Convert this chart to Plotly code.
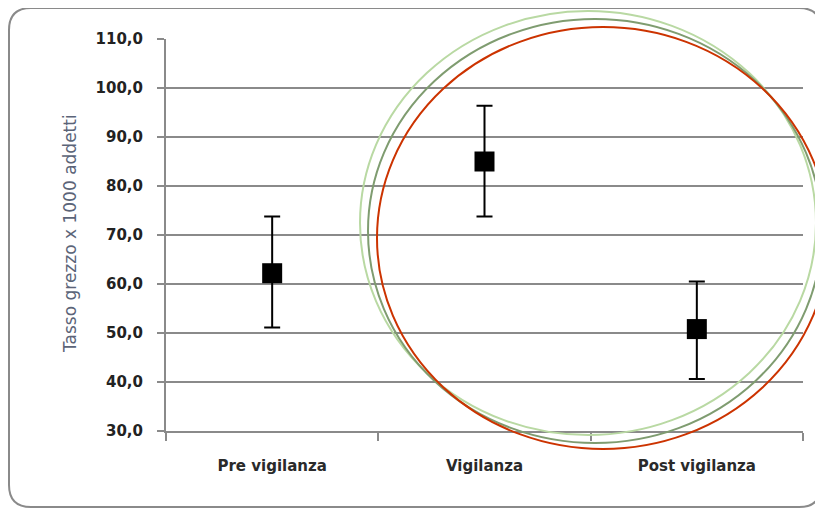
import plotly.graph_objects as go

categories = ["Pre vigilanza", "Vigilanza", "Post vigilanza"]
rate = [62.2, 85.0, 50.8]
upper = [73.8, 96.4, 60.5]
lower = [51.1, 73.8, 40.6]
y_ticks = [30, 40, 50, 60, 70, 80, 90, 100, 110]

err_plus = [u - v for u, v in zip(upper, rate)]
err_minus = [v - l for v, l in zip(rate, lower)]

OFF = 8  # page offset of the figure inside the browser window
W, H = 815, 503
L, T = 166 - OFF, 39 - OFF
R = W - (803 - OFF)
B = H - (431 - OFF)
PW, PH = W - L - R, H - T - B


def px(x):
    return (x - OFF - L) / PW


def py(y):
    return (H - B - (y - OFF)) / PH


fig = go.Figure()
fig.add_trace(go.Scatter(
    x=categories, y=rate, mode="markers",
    marker=dict(symbol="square", size=20, color="black"),
    error_y=dict(type="data", symmetric=False, array=err_plus, arrayminus=err_minus,
                 color="black", thickness=2, width=8),
    showlegend=False, hoverinfo="skip",
))

shapes = []
# rounded border
x0, x1, y0, y1, r = 9, 821, 8, 507, 22
rx, ry = r / PW, r / PH
X0, X1, Y0, Y1 = px(x0), px(x1), py(y0), py(y1)
path = (f"M {X0+rx} {Y0} L {X1-rx} {Y0} Q {X1} {Y0} {X1} {Y0-ry} "
        f"L {X1} {Y1+ry} Q {X1} {Y1} {X1-rx} {Y1} "
        f"L {X0+rx} {Y1} Q {X0} {Y1} {X0} {Y1+ry} "
        f"L {X0} {Y0-ry} Q {X0} {Y0} {X0+rx} {Y0} Z")
shapes.append(dict(type="path", xref="paper", yref="paper", path=path,
                   line=dict(color="#8a8a8a", width=2), layer="below"))

# highlight circles
for (cx0, cy0, cx1, cy1, col) in [
    (360, 11, 816, 435, "#b9d9a3"),
    (368, 19, 822, 443, "#7f9c70"),
    (377, 27, 829, 449, "#cc3300"),
]:
    shapes.append(dict(type="circle", xref="paper", yref="paper",
                       x0=px(cx0), x1=px(cx1), y0=py(cy1), y1=py(cy0),
                       line=dict(color=col, width=2)))

fig.update_layout(
    width=W, height=H,
    margin=dict(l=L, r=R, t=T, b=B),
    paper_bgcolor="white", plot_bgcolor="white",
    separators=",.",
    shapes=shapes,
    xaxis=dict(
        type="category", range=[-0.5, 2.5], tickson="boundaries",
        ticks="outside", ticklen=8, tickcolor="#8a8a8a", tickwidth=2,
        showline=True, linecolor="#8a8a8a", linewidth=2,
        showgrid=False, zeroline=False,
        tickfont=dict(family="DejaVu Sans", size=15, color="#2a2a2a", weight="bold"),
        ticklabelstandoff=20,
    ),
    yaxis=dict(
        range=[30, 110], tickvals=y_ticks, tickformat=".1f",
        ticks="outside", ticklen=7, tickcolor="#8a8a8a", tickwidth=2,
        showline=True, linecolor="#8a8a8a", linewidth=2,
        showgrid=True, gridcolor="#8a8a8a", gridwidth=2, zeroline=False,
        tickfont=dict(family="DejaVu Sans", size=15, color="#222222", weight="bold"),
        ticklabelstandoff=11,
    ),
    annotations=[dict(
        text="Tasso grezzo x 1000 addetti", xref="paper", yref="paper",
        x=px(58), y=py(234), textangle=-90, showarrow=False,
        font=dict(family="DejaVu Sans", size=17, color="#5b6478"),
    )],
)

fig.write_html("out.html")
